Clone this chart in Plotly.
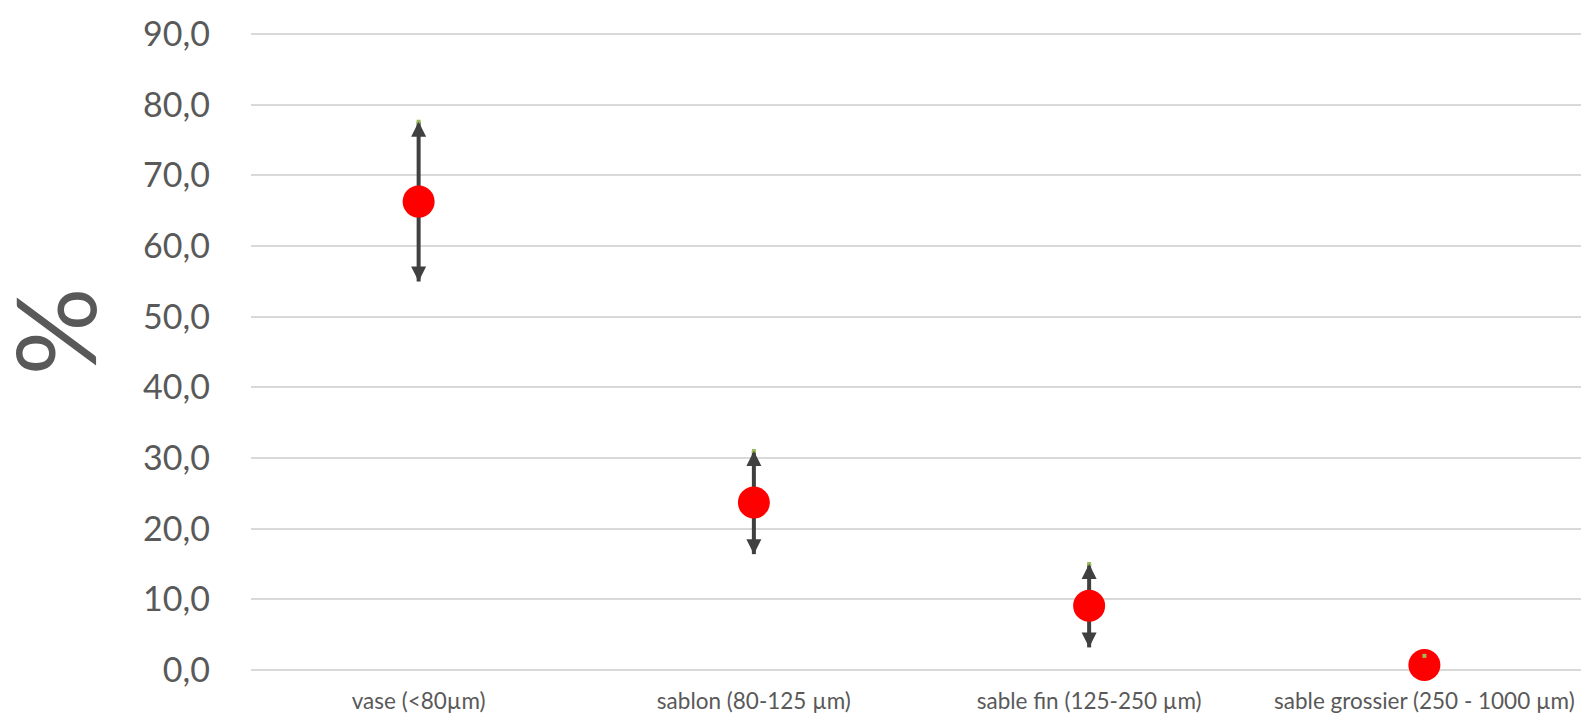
import plotly.graph_objects as go

categories = ["vase (<80µm)", "sablon (80-125 µm)", "sable fin (125-250 µm)", "sable grossier (250 - 1000 µm)"]
means = [66.3, 23.7, 9.1, 0.7]
sds = [11.3, 7.3, 5.9, 1.3]
tick_vals = [0, 10, 20, 30, 40, 50, 60, 70, 80, 90]
tick_text = ["0,0", "10,0", "20,0", "30,0", "40,0", "50,0", "60,0", "70,0", "80,0", "90,0"]

hi = [m + s for m, s in zip(means, sds)]
lo = [m - s for m, s in zip(means, sds)]

FONT = "Lato"
GREY = "#595959"
DARK = "#404040"

fig = go.Figure()

# error bar stems
for c, l, h in zip(categories, lo, hi):
    fig.add_trace(go.Scatter(x=[c, c], y=[l, h], mode="lines",
                             line=dict(color=DARK, width=4),
                             showlegend=False, hoverinfo="skip", cliponaxis=False))
# mean markers
fig.add_trace(go.Scatter(x=categories, y=means, mode="markers",
                         marker=dict(symbol="circle", size=32, color="#ff0000",
                                     line=dict(width=0)),
                         showlegend=False, cliponaxis=False))

# arrow heads at the ends of the error bars (except where hidden by marker)
for c, m, l, h in zip(categories, means, lo, hi):
    if h - m < 3:
        continue
    fig.add_annotation(x=c, y=h, xref="x", yref="y", ax=0, ay=12, text="",
                       showarrow=True, arrowhead=2, arrowwidth=4, arrowsize=0.75,
                       arrowcolor=DARK)
    fig.add_annotation(x=c, y=l, xref="x", yref="y", ax=0, ay=-12, text="",
                       showarrow=True, arrowhead=2, arrowwidth=4, arrowsize=0.75,
                       arrowcolor=DARK)

# max markers (small green)
fig.add_trace(go.Scatter(x=categories, y=hi, mode="markers",
                         marker=dict(symbol="square", size=4, color="#9bbb59",
                                     line=dict(width=0)),
                         showlegend=False, cliponaxis=False))

fig.add_annotation(text="%", xref="paper", yref="paper", x=-0.148, y=0.53,
                   textangle=-90, showarrow=False,
                   font=dict(family=FONT, size=110, color=GREY),
                   xanchor="center", yanchor="middle")

fig.update_layout(
    width=1589, height=718,
    margin=dict(l=243, r=5, t=23.6, b=56, autoexpand=False),
    paper_bgcolor="white", plot_bgcolor="white",
    font=dict(family=FONT, color=GREY),
    xaxis=dict(type="category", range=[-0.5, 3.5], showgrid=False, showline=False,
               zeroline=False, ticks="", automargin=False, ticklabelstandoff=15,
               tickfont=dict(family=FONT, size=22.5, color=GREY)),
    yaxis=dict(range=[0, 90.3], tickvals=tick_vals, ticktext=tick_text,
               showgrid=True, gridcolor="#d9d9d9", gridwidth=2,
               zeroline=True, zerolinecolor="#d9d9d9", zerolinewidth=2,
               showline=False, ticks="", ticklabelstandoff=40, automargin=False,
               tickfont=dict(family=FONT, size=34, color=GREY)),
)

fig.write_html("out.html")
